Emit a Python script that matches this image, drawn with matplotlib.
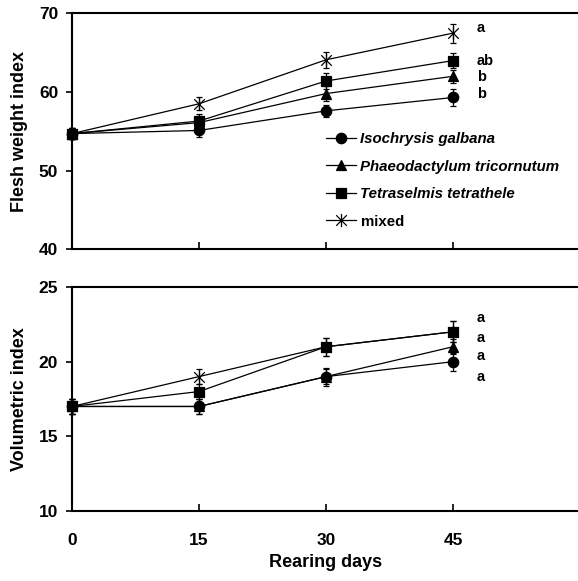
import matplotlib.pyplot as plt
from matplotlib.path import Path

plt.rcParams['font.family'] = ['Liberation Sans', 'DejaVu Sans']
plt.rcParams['font.weight'] = 'bold'

# rearing days
days = [0, 15, 30, 45]
names = ['Isochrysis galbana', 'Phaeodactylum tricornutum',
         'Tetraselmis tetrathele', 'mixed']

# flesh weight index (mean, error)
fw_iso = [54.7, 55.1, 57.6, 59.3]
fw_pha = [54.7, 56.1, 59.8, 62.0]
fw_tet = [54.7, 56.3, 61.4, 64.0]
fw_mix = [54.7, 58.5, 64.1, 67.5]
fw_iso_err = [0.7, 0.8, 0.8, 1.1]
fw_pha_err = [0.7, 0.8, 1.0, 0.8]
fw_tet_err = [0.7, 0.9, 1.0, 1.0]
fw_mix_err = [0.7, 0.8, 1.0, 1.2]
fw_letters = ['b', 'b', 'ab', 'a']
fw_letter_y = [59.7, 61.9, 64.0, 68.1]

# volumetric index (mean, error)
vi_iso = [17.0, 17.0, 19.0, 20.0]
vi_pha = [17.0, 17.0, 19.0, 21.0]
vi_tet = [17.0, 18.0, 21.0, 22.0]
vi_mix = [17.0, 19.0, 21.0, 22.0]
vi_iso_err = [0.5, 0.5, 0.5, 0.6]
vi_pha_err = [0.5, 0.5, 0.6, 0.5]
vi_tet_err = [0.5, 0.5, 0.6, 0.7]
vi_mix_err = [0.5, 0.5, 0.6, 0.7]
vi_letters = ['a', 'a', 'a', 'a']
vi_letter_y = [19.0, 20.35, 21.6, 22.9]

# asterisk = X with a vertical stroke
star = Path([(-1, -1), (1, 1), (-1, 1), (1, -1), (0, -1.25), (0, 1.25)],
            [Path.MOVETO, Path.LINETO] * 3)
markers = ['o', '^', 's', star]
msizes = [7.5, 7.5, 7.5, 9.5]

fig = plt.figure(figsize=(5.78, 5.81), dpi=100)
ax1 = fig.add_axes([0.1246, 0.5714, 0.879, 0.4054])
ax2 = fig.add_axes([0.1246, 0.1205, 0.879, 0.3855])


def draw(ax, series, errs, letters, letter_y):
    handles = []
    for vals, err, mk, ms, name in zip(series, errs, markers, msizes, names):
        c = ax.errorbar(days, vals, yerr=err, fmt='-', marker=mk, ms=ms,
                        color='black', mfc='black', mec='black', mew=0.9,
                        lw=0.9, elinewidth=0.9, capsize=2.5, capthick=0.9,
                        label=name, clip_on=False, zorder=3)
        handles.append(c.lines[0])
    for lab, y in zip(letters, letter_y):
        ax.text(47.8, y, lab, fontsize=10.5, fontweight='bold',
                va='center', ha='left')
    ax.set_xlim(0, 60)
    ax.set_xticks(days)
    for s in ['left', 'bottom', 'top']:
        ax.spines[s].set_linewidth(1.5)
    ax.spines['right'].set_visible(False)
    ax.tick_params(axis='y', direction='out', length=4, width=1.2,
                   labelsize=12.5, pad=6)
    ax.tick_params(axis='x', direction='in', length=5, width=1.2,
                   labelsize=12.5, pad=16)
    return handles


h = draw(ax1, [fw_iso, fw_pha, fw_tet, fw_mix],
         [fw_iso_err, fw_pha_err, fw_tet_err, fw_mix_err],
         fw_letters, fw_letter_y)
ax1.set_ylim(40, 70)
ax1.set_yticks([40, 50, 60, 70])
ax1.set_xticklabels([])
ax1.set_ylabel('Flesh weight index', fontsize=13, fontweight='bold',
               labelpad=8)

leg = ax1.legend(handles=h, labels=names, loc='upper left',
                 bbox_to_anchor=(326 / 578, 1 - 132 / 581),
                 bbox_transform=fig.transFigure, frameon=False,
                 borderpad=0, borderaxespad=0, handlelength=2.0,
                 handletextpad=0.3, labelspacing=0.9,
                 prop={'size': 10.8, 'weight': 'bold'})
for t in leg.get_texts()[:3]:
    t.set_fontstyle('italic')

draw(ax2, [vi_iso, vi_pha, vi_tet, vi_mix],
     [vi_iso_err, vi_pha_err, vi_tet_err, vi_mix_err],
     vi_letters, vi_letter_y)
ax2.set_ylim(10, 25)
ax2.set_yticks([10, 15, 20, 25])
ax2.set_ylabel('Volumetric index', fontsize=13, fontweight='bold',
               labelpad=8)
ax2.set_xlabel('Rearing days', fontsize=13, fontweight='bold', labelpad=4)

fig.savefig('out.png', dpi=100)
